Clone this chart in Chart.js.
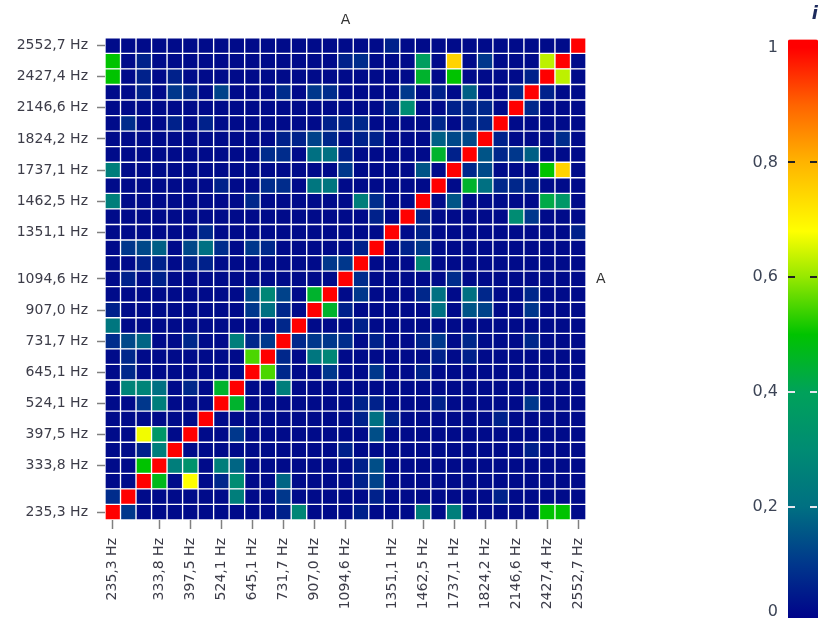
<!DOCTYPE html>
<html>
<head>
<meta charset="utf-8">
<script src="https://cdn.jsdelivr.net/npm/chart.js@4.4.0/dist/chart.umd.min.js"></script>
<style>
  html, body { margin: 0; padding: 0; background: #fff; }
  #wrap { position: relative; width: 820px; height: 618px; }
  #heatmapBox { position: absolute; left: 0; top: 0; }
  #scaleBox { position: absolute; left: 700px; top: 0; }
</style>
</head>
<body>
<div id="wrap">
  <div id="heatmapBox"><canvas id="heatmap" width="640" height="618"></canvas></div>
  <div id="scaleBox"><canvas id="colorScale" width="120" height="618"></canvas></div>
</div>
<script>
// row / column frequencies, bottom to top (null = no label shown)
const frequencies = [235.3, null, null, 333.8, null, 397.5, null, 524.1, null, 645.1,
    null, 731.7, null, 907.0, null, 1094.6, null, null, 1351.1, null,
    1462.5, null, 1737.1, null, 1824.2, null, 2146.6, null, 2427.4, null, 2552.7];

const axisTitle = 'A';
const scaleTitle = 'i';
const scaleTicks = [0, 0.2, 0.4, 0.6, 0.8, 1];
const scaleMin = 0.006;
const scaleMax = 1.014;

const stopValues = [0, 0.1, 0.2, 0.3, 0.4, 0.5, 0.6, 0.68, 0.8, 0.9, 1];
const stopColors = [
    [0, 0, 138], [0, 55, 140], [0, 112, 130], [0, 140, 115], [0, 162, 90],
    [0, 195, 0], [150, 232, 0], [255, 255, 0], [255, 180, 0], [255, 100, 0], [255, 0, 0]
];

// matrix rows, bottom (235,3 Hz) to top (2552,7 Hz)
const matrix = [
    [1, .10, .02, .02, .02, .02, .02, .02, .02, .02, .02, .06, .28, .02, .02, .02, .06, .02, .02, .02, .25, .02, .25, .02, .02, .02, .02, .02, .50, .50, .02],
    [.08, 1, .02, .02, .02, .02, .02, .02, .25, .02, .02, .10, .02, .02, .02, .02, .02, .06, .02, .02, .02, .02, .02, .02, .02, .06, .02, .02, .02, .02, .02],
    [.02, .02, 1, .47, .02, .68, .02, .07, .30, .02, .02, .18, .02, .02, .02, .02, .06, .12, .02, .02, .02, .02, .02, .02, .02, .02, .02, .02, .02, .02, .02],
    [.02, .02, .50, 1, .25, .33, .02, .25, .18, .02, .02, .02, .02, .02, .02, .02, .06, .14, .02, .02, .02, .02, .02, .02, .02, .02, .02, .02, .02, .02, .02],
    [.02, .02, .06, .25, 1, .02, .02, .02, .02, .02, .02, .02, .02, .02, .02, .06, .02, .02, .02, .02, .02, .02, .02, .02, .02, .02, .02, .06, .02, .02, .02],
    [.02, .02, .67, .35, .02, 1, .02, .02, .10, .02, .02, .02, .02, .02, .02, .02, .02, .14, .02, .02, .02, .02, .02, .02, .02, .02, .02, .02, .02, .02, .02],
    [.02, .02, .02, .02, .02, .02, 1, .02, .02, .02, .02, .02, .02, .02, .02, .02, .06, .20, .06, .02, .02, .02, .02, .02, .02, .06, .02, .02, .02, .02, .02],
    [.02, .02, .10, .25, .02, .02, .02, 1, .45, .02, .02, .02, .02, .02, .02, .02, .06, .06, .02, .02, .02, .06, .02, .02, .02, .02, .02, .10, .02, .02, .02],
    [.02, .27, .27, .20, .02, .07, .02, .45, 1, .02, .02, .25, .02, .02, .02, .02, .02, .02, .02, .02, .02, .02, .02, .02, .02, .02, .02, .02, .02, .02, .02],
    [.02, .07, .02, .02, .02, .02, .02, .02, .02, 1, .55, .07, .02, .02, .10, .02, .02, .10, .02, .02, .06, .02, .02, .02, .02, .02, .02, .02, .02, .02, .02],
    [.02, .07, .02, .02, .02, .02, .02, .02, .02, .55, 1, .07, .02, .22, .28, .02, .02, .02, .02, .02, .02, .06, .02, .06, .02, .02, .02, .02, .02, .02, .02],
    [.08, .13, .18, .02, .02, .07, .02, .02, .25, .07, .10, 1, .07, .10, .10, .08, .02, .06, .02, .02, .06, .10, .02, .07, .02, .02, .02, .07, .02, .02, .02],
    [.22, .02, .02, .02, .02, .02, .02, .02, .02, .02, .02, .07, 1, .02, .02, .02, .06, .02, .02, .02, .02, .02, .02, .02, .02, .02, .02, .02, .02, .02, .02],
    [.06, .02, .02, .02, .02, .02, .02, .02, .02, .10, .20, .07, .02, 1, .45, .06, .02, .02, .02, .02, .02, .20, .02, .15, .12, .02, .02, .10, .02, .02, .02],
    [.02, .02, .02, .02, .02, .02, .02, .02, .02, .13, .28, .12, .02, .45, 1, .02, .10, .02, .02, .02, .07, .20, .02, .20, .07, .02, .02, .07, .02, .02, .02],
    [.02, .06, .02, .06, .02, .02, .02, .02, .02, .02, .02, .02, .02, .02, .02, 1, .08, .02, .02, .02, .02, .02, .08, .02, .02, .02, .02, .02, .02, .02, .02],
    [.02, .02, .06, .06, .02, .06, .06, .02, .02, .02, .02, .02, .02, .02, .10, .10, 1, .02, .02, .02, .28, .02, .02, .02, .02, .02, .02, .02, .02, .02, .02],
    [.02, .10, .13, .17, .02, .13, .20, .08, .02, .10, .07, .02, .02, .02, .02, .02, .06, 1, .02, .06, .10, .02, .02, .02, .02, .02, .02, .02, .02, .02, .02],
    [.02, .02, .02, .02, .02, .02, .07, .02, .02, .02, .02, .02, .02, .02, .02, .02, .02, .02, 1, .02, .06, .02, .02, .02, .02, .02, .02, .02, .02, .02, .06],
    [.02, .02, .02, .02, .02, .02, .02, .02, .02, .02, .02, .02, .02, .02, .02, .02, .02, .06, .02, 1, .06, .02, .02, .02, .02, .02, .30, .10, .02, .02, .02],
    [.25, .02, .02, .02, .02, .02, .02, .02, .02, .07, .02, .02, .02, .02, .02, .02, .25, .08, .02, .02, 1, .02, .15, .02, .02, .02, .02, .02, .42, .35, .02],
    [.02, .02, .02, .02, .02, .02, .02, .06, .02, .02, .08, .08, .02, .22, .22, .02, .02, .02, .02, .02, .02, 1, .02, .45, .20, .07, .07, .07, .02, .02, .02],
    [.25, .02, .02, .02, .02, .02, .02, .02, .02, .02, .02, .02, .02, .02, .02, .10, .02, .02, .02, .02, .15, .02, 1, .07, .13, .02, .02, .02, .50, .75, .02],
    [.02, .02, .02, .02, .02, .02, .02, .02, .02, .02, .08, .08, .02, .20, .20, .06, .02, .02, .02, .02, .02, .45, .06, 1, .15, .07, .10, .17, .02, .02, .02],
    [.02, .02, .02, .02, .02, .02, .02, .02, .02, .02, .02, .06, .06, .12, .07, .02, .06, .06, .02, .02, .02, .17, .13, .13, 1, .06, .02, .02, .02, .08, .02],
    [.02, .08, .02, .02, .06, .02, .06, .02, .02, .02, .02, .02, .02, .02, .06, .06, .07, .02, .02, .02, .02, .07, .02, .07, .07, 1, .02, .02, .02, .02, .02],
    [.02, .02, .02, .02, .02, .02, .02, .02, .02, .02, .02, .02, .02, .02, .02, .02, .02, .02, .06, .30, .02, .02, .06, .07, .07, .02, 1, .07, .02, .02, .02],
    [.02, .02, .06, .02, .10, .07, .02, .12, .02, .02, .02, .08, .02, .10, .08, .02, .02, .02, .02, .10, .02, .06, .02, .17, .02, .02, .07, 1, .06, .02, .02],
    [.50, .02, .06, .02, .06, .02, .02, .02, .02, .02, .02, .02, .02, .02, .02, .02, .02, .02, .02, .02, .45, .02, .50, .02, .02, .02, .02, .06, 1, .63, .02],
    [.50, .02, .06, .02, .02, .02, .02, .02, .02, .02, .02, .02, .02, .02, .02, .06, .08, .02, .02, .02, .38, .02, .75, .02, .10, .02, .02, .02, .63, 1, .02],
    [.02, .02, .02, .02, .02, .02, .02, .02, .02, .02, .02, .02, .02, .02, .02, .02, .02, .02, .06, .02, .02, .02, .02, .02, .02, .02, .02, .02, .02, .02, 1]
];

const labelFont = { family: 'DejaVu Sans', size: 14 };
const labelColor = '#3c3c48';
const tickMarkColor = '#808080';

function formatFrequency(value) {
    if (value === null || value === undefined) {
        return '';
    }
    return value.toFixed(1).replace('.', ',') + ' Hz';
}

function colorFor(value) {
    for (let i = 1; i < stopValues.length; i++) {
        if (value <= stopValues[i]) {
            const t = (value - stopValues[i - 1]) / (stopValues[i] - stopValues[i - 1]);
            const a = stopColors[i - 1];
            const b = stopColors[i];
            const rgb = a.map((c, k) => Math.round(c + (b[k] - c) * t));
            return 'rgb(' + rgb.join(',') + ')';
        }
    }
    return 'rgb(' + stopColors[stopColors.length - 1].join(',') + ')';
}

function scaleGradient(chart) {
    const { ctx, chartArea, scales } = chart;
    if (!chartArea) {
        return null;
    }
    const y = scales.y;
    const gradient = ctx.createLinearGradient(0, y.getPixelForValue(0), 0, y.getPixelForValue(1));
    stopValues.forEach((v, i) => {
        gradient.addColorStop(v, 'rgb(' + stopColors[i].join(',') + ')');
    });
    return gradient;
}

const sideTitle = {
    id: 'sideTitle',
    afterDraw(chart) {
        const { ctx, chartArea } = chart;
        ctx.save();
        ctx.font = '14px "DejaVu Sans"';
        ctx.fillStyle = '#333';
        ctx.textAlign = 'left';
        ctx.textBaseline = 'middle';
        ctx.fillText(axisTitle, chartArea.right + 10, (chartArea.top + chartArea.bottom) / 2);
        ctx.restore();
    }
};

const labelledRows = [];
frequencies.forEach((f, i) => {
    if (f !== null) {
        labelledRows.push(i);
    }
});

const datasets = matrix.map((rowValues, r) => ({
    label: formatFrequency(frequencies[r]),
    data: rowValues.map(() => 1),
    backgroundColor: rowValues.map(colorFor),
    borderColor: '#ffffff',
    borderWidth: 1,
    borderSkipped: false,
    barPercentage: 1,
    categoryPercentage: 1
}));

new Chart(document.getElementById('heatmap'), {
    type: 'bar',
    data: {
        labels: frequencies.map(formatFrequency),
        datasets: datasets
    },
    plugins: [sideTitle],
    options: {
        responsive: false,
        animation: false,
        layout: { padding: { left: 0, right: 54, top: 0, bottom: 0 } },
        plugins: {
            legend: { display: false },
            tooltip: { enabled: false },
            title: {
                display: true,
                text: axisTitle,
                fullSize: false,
                color: '#333',
                font: { family: 'DejaVu Sans', size: 14, weight: 'normal' },
                padding: { top: 12, bottom: 9 }
            }
        },
        scales: {
            x: {
                stacked: true,
                offset: true,
                border: { display: false },
                grid: {
                    offset: false,
                    drawOnChartArea: false,
                    tickLength: 9,
                    tickWidth: 1.5,
                    tickColor: (ctx) => frequencies[ctx.index] === null ? 'rgba(0,0,0,0)' : tickMarkColor
                },
                ticks: {
                    autoSkip: false,
                    minRotation: 90,
                    maxRotation: 90,
                    padding: 9,
                    font: labelFont,
                    color: labelColor
                },
                afterFit: (scale) => { scale.height = 98; }
            },
            y: {
                stacked: true,
                min: 0,
                max: frequencies.length,
                border: { display: false },
                grid: {
                    drawOnChartArea: false,
                    tickLength: 8,
                    tickWidth: 1.5,
                    tickColor: tickMarkColor
                },
                ticks: {
                    padding: 9,
                    font: labelFont,
                    color: labelColor,
                    callback: (value) => formatFrequency(frequencies[Math.floor(value)])
                },
                afterBuildTicks: (scale) => {
                    scale.ticks = labelledRows.map((r) => ({ value: r + 0.5 }));
                },
                afterFit: (scale) => { scale.width = 105; }
            }
        }
    }
});

new Chart(document.getElementById('colorScale'), {
    type: 'bar',
    data: {
        labels: [''],
        datasets: [{
            data: [[scaleMin, scaleMax]],
            backgroundColor: (ctx) => scaleGradient(ctx.chart),
            borderWidth: 0,
            borderRadius: { topLeft: 3, topRight: 3, bottomLeft: 0, bottomRight: 0 },
            borderSkipped: false,
            barPercentage: 1,
            categoryPercentage: 1
        }]
    },
    options: {
        responsive: false,
        animation: false,
        layout: { padding: { left: 0, right: 2, top: 0, bottom: 0 } },
        plugins: {
            legend: { display: false },
            tooltip: { enabled: false },
            title: {
                display: true,
                text: scaleTitle,
                align: 'end',
                fullSize: false,
                color: '#1c2a5c',
                font: { family: 'DejaVu Sans', size: 18, weight: 'bold', style: 'italic' },
                padding: { top: 4, bottom: 14 }
            }
        },
        scales: {
            x: { display: false },
            y: {
                min: scaleMin,
                max: scaleMax,
                border: { display: false, dash: [7, 15] },
                grid: {
                    z: 1,
                    drawTicks: false,
                    lineWidth: 2,
                    color: (ctx) => {
                        const v = ctx.tick ? ctx.tick.value : 0;
                        if (v <= 0 || v >= 1) {
                            return 'rgba(0,0,0,0)';
                        }
                        return v >= 0.6 ? '#222222' : '#e6e6ee';
                    }
                },
                ticks: {
                    padding: 10,
                    font: { family: 'DejaVu Sans', size: 16 },
                    color: '#3c4456',
                    // the lowest label sits just above the bar's bottom edge
                    callback: (value) => value === 0 ? ['0', ''] : String(Math.round(value * 10) / 10).replace('.', ',')
                },
                afterBuildTicks: (scale) => {
                    scale.ticks = scaleTicks.map((v) => ({ value: v }));
                },
                afterFit: (scale) => {
                    scale.width = 88;
                    scale.paddingTop = 0;
                    scale.paddingBottom = 0;
                }
            }
        }
    }
});
</script>
</body>
</html>
